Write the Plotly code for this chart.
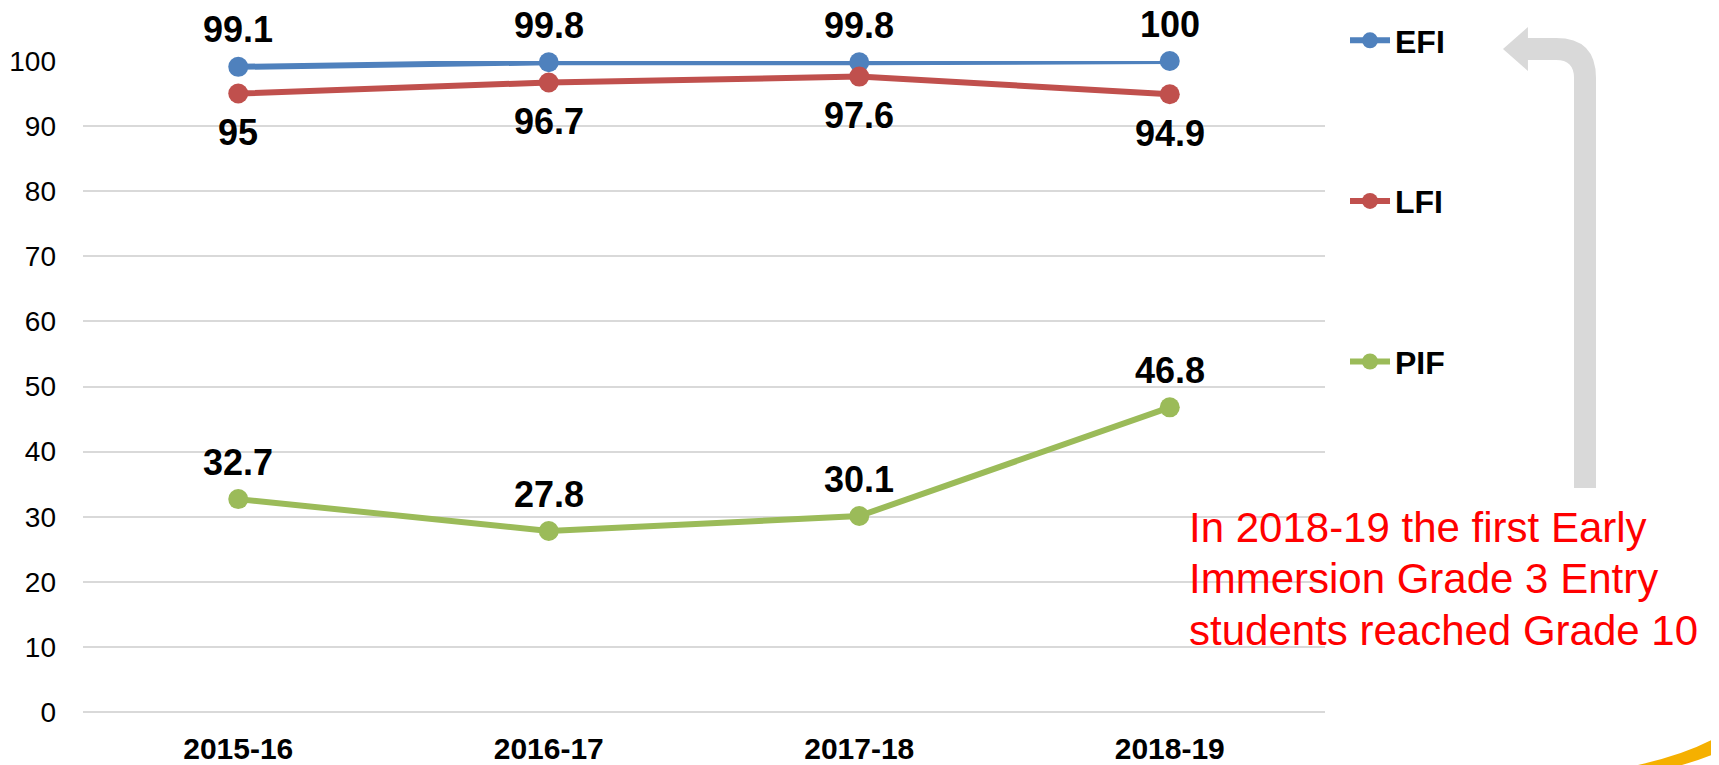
import plotly.graph_objects as go

# data
years = ["2015-16", "2016-17", "2017-18", "2018-19"]
efi = [99.1, 99.8, 99.8, 100]
lfi = [95, 96.7, 97.6, 94.9]
pif = [32.7, 27.8, 30.1, 46.8]
y_ticks = [0, 10, 20, 30, 40, 50, 60, 70, 80, 90, 100]

note_lines = [
    "In 2018-19 the first Early",
    "Immersion Grade 3 Entry",
    "students reached Grade 10",
]

FONT = "Arial, Liberation Sans, sans-serif"
OFF = 8  # page body margin
W, H = 1719 - OFF, 765 - OFF
L, R, T, B = 83 - OFF, 394, 61 - OFF, 53

series = [
    ("EFI", efi, "#4F81BD", 37),
    ("LFI", lfi, "#C0504D", -39),
    ("PIF", pif, "#9BBB59", 37),
]

fig = go.Figure()
for name, vals, col, shift in series:
    fig.add_trace(go.Scatter(
        x=years, y=vals, name=name, mode="lines+markers",
        line=dict(color=col, width=6),
        marker=dict(color=col, size=20),
        legendgroup=name, cliponaxis=False,
    ))
    for xx, v in zip(years, vals):
        fig.add_annotation(
            x=xx, y=v, text=f"{v:g}", showarrow=False, yshift=shift,
            yanchor="middle",
            font=dict(family=FONT, size=36, color="black", weight="bold"),
        )


# page pixel -> paper helpers for the decorations
def px(x):
    return (x - OFF - L) / (W - L - R)


def py(y):
    return (H - B - (y - OFF)) / (H - T - B)


def path(pts):
    out = []
    for cmd, *xy in pts:
        coords = " ".join(f"{px(xy[i]):.4f},{py(xy[i+1]):.4f}" for i in range(0, len(xy), 2))
        out.append(f"{cmd}{coords}")
    return " ".join(out) + " Z"


# grey bent arrow pointing to legend
arrow = path([
    ("M", 1574, 488), ("L", 1574, 78), ("Q", 1574, 60, 1556, 60),
    ("L", 1528, 60), ("L", 1528, 71), ("L", 1503, 49), ("L", 1528, 27),
    ("L", 1528, 38), ("L", 1556, 38), ("Q", 1596, 38, 1596, 78),
    ("L", 1596, 488),
])
fig.add_shape(type="path", path=arrow, xref="paper", yref="paper",
              fillcolor="#D9D9D9", line=dict(width=0), layer="below")

# little yellow swoosh in the corner
swoosh = path([
    ("M", 1638, 765), ("Q", 1688, 754, 1719, 736), ("L", 1719, 752),
    ("Q", 1700, 760, 1682, 765),
])
fig.add_shape(type="path", path=swoosh, xref="paper", yref="paper",
              fillcolor="#F5B000", line=dict(width=0))

for i, line in enumerate(note_lines):
    fig.add_annotation(
        x=px(1187), y=py(527 + 51.5 * i), xref="paper", yref="paper",
        text=line, showarrow=False, xanchor="left", yanchor="middle", align="left",
        font=dict(family=FONT, size=42, color="#FF0000"),
    )

fig.update_layout(
    width=W, height=H,
    margin=dict(l=L, r=R, t=T, b=B),
    paper_bgcolor="white", plot_bgcolor="white",
    font=dict(family=FONT, color="black"),
    showlegend=True,
    legend=dict(
        xref="container", yref="container",
        x=(1345 - OFF) / W, y=1 - (13 - OFF) / H,
        xanchor="left", yanchor="top",
        font=dict(family=FONT, size=32, color="black", weight="bold"),
        tracegroupgap=116, itemwidth=40,
        bgcolor="rgba(0,0,0,0)",
    ),
)
fig.update_xaxes(
    range=[-0.5, 3.5], showgrid=False, zeroline=False, showline=False,
    ticks="", ticklabelstandoff=16, automargin=False,
    tickfont=dict(family=FONT, size=30, color="black", weight="bold"),
)
fig.update_yaxes(
    range=[0, 100], tickvals=y_ticks, showgrid=True, gridcolor="#D9D9D9",
    gridwidth=2, zeroline=True, zerolinecolor="#D9D9D9", zerolinewidth=2,
    ticks="", ticklabelstandoff=26, automargin=False,
    tickfont=dict(family=FONT, size=28, color="black"),
)

fig.write_html("out.html")
